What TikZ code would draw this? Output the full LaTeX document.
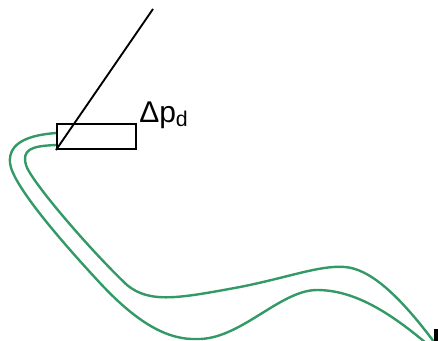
\documentclass[tikz,border=0pt]{standalone}
\usepackage{fontspec}
\setmainfont{Liberation Sans}
\usetikzlibrary{positioning}
\definecolor{tubegreen}{RGB}{51,153,102}
\tikzset{
  padbox/.style={
    draw=black,
    line width=1.4pt,
    minimum width=59pt,
    minimum height=18.5pt,
    inner sep=0pt
  },
  probeline/.style={
    line width=1.4pt
  },
  tubeline/.style={
    draw=tubegreen,
    line width=1.8pt
  }
}
\begin{document}
\begin{tikzpicture}[x=0.75pt,y=-0.75pt]
  \useasboundingbox (0,0) rectangle (438,340);
  \clip (0,0) rectangle (438,340);
  % pad and probe
  \node[padbox, anchor=south west] (pad) at (56,150) {};
  \coordinate (tip) at (153,9);
  \draw[probeline] (pad.south west) -- (tip);
  \node[anchor=base west, inner sep=0pt, font=\fontsize{22.5}{24}\selectfont] (dplabel) at (139,122)
    {Δp\raisebox{-3pt}{\fontsize{16}{16}\selectfont d}};
  % outer tube
  \draw[tubeline] (56,133) .. controls (30,135) and (8,142) .. (10,163)
    .. controls (12,184) and (60,240) .. (100,283)
    .. controls (140,326) and (170,340) .. (197,339)
    .. controls (240,340) and (280,290) .. (317,290)
    .. controls (360,290) and (400,320) .. (440,355);
  % inner tube
  \draw[tubeline] (56,145) .. controls (30,146) and (22,150) .. (26,165)
    .. controls (30,180) and (90,250) .. (127,285)
    .. controls (150,304) and (180,298) .. (240,287)
    .. controls (290,277) and (320,265) .. (345,267)
    .. controls (370,269) and (400,295) .. (440,350);
  % cut-off block
  \fill[black] (434,329) rectangle (442,344);
\end{tikzpicture}
\end{document}
